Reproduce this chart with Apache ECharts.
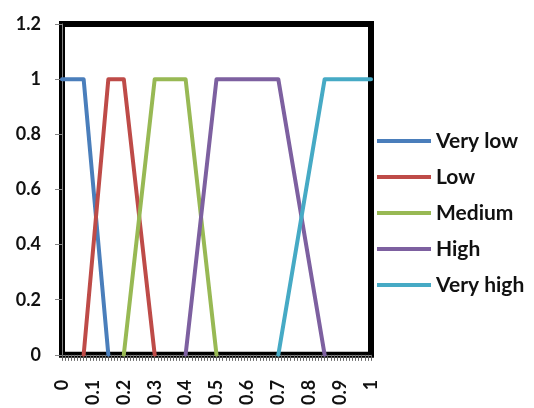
<!DOCTYPE html>
<html>
<head>
<meta charset="utf-8">
<script src="https://cdn.jsdelivr.net/npm/echarts@6/dist/echarts.min.js"></script>
<style>
html,body{margin:0;padding:0;background:#fff;}
#c{width:534px;height:408px;}
</style>
</head>
<body>
<div id="c"></div>
<script>
const seriesNames = ['Very low', 'Low', 'Medium', 'High', 'Very high'];
const veryLowX = [0, 0.07, 0.15];
const veryLowY = [1, 1, 0];
const lowX = [0.07, 0.15, 0.2, 0.3];
const lowY = [0, 1, 1, 0];
const mediumX = [0.2, 0.3, 0.4, 0.5];
const mediumY = [0, 1, 1, 0];
const highX = [0.4, 0.5, 0.7, 0.85];
const highY = [0, 1, 1, 0];
const veryHighX = [0.7, 0.85, 1];
const veryHighY = [0, 1, 1];
const colors = ['#4A7EBB', '#BE4B48', '#98B954', '#7D60A0', '#46AAC5'];

const xs = [veryLowX, lowX, mediumX, highX, veryHighX];
const ys = [veryLowY, lowY, mediumY, highY, veryHighY];

const font = 'Lato, "Open Sans", sans-serif';
const chart = echarts.init(document.getElementById('c'), null, {renderer: 'canvas'});
chart.setOption({
  animation: false,
  color: colors,
  grid: {
    left: 62, right: 163, top: 24, bottom: 48,
    show: true, borderColor: '#000', borderWidth: 6, backgroundColor: 'transparent'
  },
  legend: {
    orient: 'vertical',
    left: 377, top: 129,
    padding: 0,
    icon: 'rect',
    itemWidth: 54, itemHeight: 4,
    itemGap: 12,
    textStyle: {fontFamily: font, fontSize: 21, fontWeight: 'bold', color: '#111', lineHeight: 24},
    data: seriesNames
  },
  xAxis: {
    type: 'value', min: 0, max: 1, interval: 0.1,
    axisLine: {show: true, lineStyle: {color: '#868686', width: 1}},
    axisTick: {show: true, length: 6, lineStyle: {color: '#666'}},
    minorTick: {show: true, splitNumber: 10, length: 6, lineStyle: {color: '#666'}},
    splitLine: {show: false},
    axisLabel: {rotate: 90, margin: 25, fontFamily: font, fontSize: 18, fontWeight: 'bold', color: '#111'}
  },
  yAxis: {
    type: 'value', min: 0, max: 1.2, interval: 0.2,
    axisLine: {show: true, lineStyle: {color: '#868686', width: 1}},
    axisTick: {show: true, length: 7, lineStyle: {color: '#868686'}},
    splitLine: {show: false},
    axisLabel: {margin: 21, fontFamily: font, fontSize: 18, fontWeight: 'bold', color: '#111'}
  },
  series: seriesNames.map((n, i) => ({
    name: n,
    type: 'line',
    showSymbol: false,
    symbol: 'none',
    lineStyle: {width: 4, cap: 'round', join: 'round'},
    data: xs[i].map((x, j) => [x, ys[i][j]])
  }))
});
</script>
</body>
</html>
